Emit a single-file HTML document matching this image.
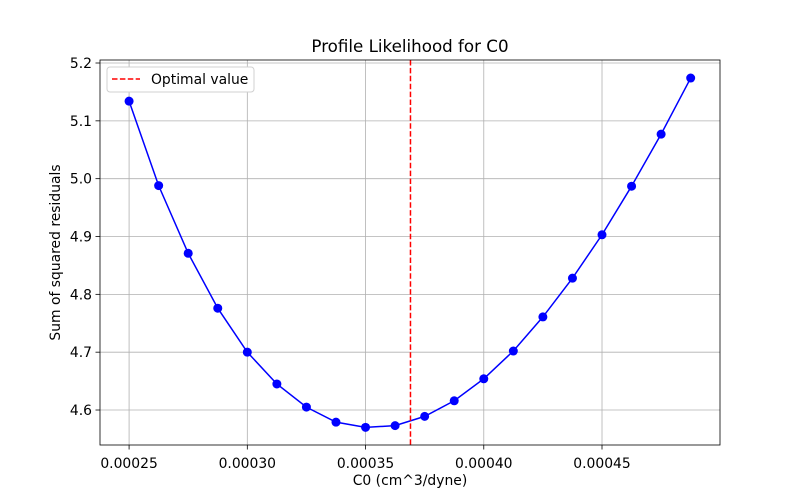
<!DOCTYPE html>
<html><head><meta charset="utf-8"><style>
body{margin:0;background:#fff;font-family:"DejaVu Sans","Liberation Sans",sans-serif}
</style></head><body>
<svg id="c" width="800" height="500" xmlns="http://www.w3.org/2000/svg" font-family="DejaVu Sans, Liberation Sans, sans-serif"></svg>
<script>
const xValues=[0.00025,0.0002625,0.000275,0.0002875,0.0003,0.0003125,0.000325,0.0003375,0.00035,0.0003625,0.000375,0.0003875,0.0004,0.0004125,0.000425,0.0004375,0.00045,0.0004625,0.000475,0.0004875];
const yValues=[5.134,4.988,4.871,4.776,4.700,4.645,4.605,4.579,4.570,4.573,4.589,4.616,4.654,4.702,4.761,4.828,4.903,4.987,5.077,5.174];
const xTicks=[0.00025,0.0003,0.00035,0.0004,0.00045];
const xTickLabels=["0.00025","0.00030","0.00035","0.00040","0.00045"];
const yTicks=[4.6,4.7,4.8,4.9,5.0,5.1,5.2];
const yTickLabels=["4.6","4.7","4.8","4.9","5.0","5.1","5.2"];
const optimalValue=[0.000369];
const L=100,R=720,T=60,B=445;
const xMin=0.0002377,xMax=0.0004999,yMin=4.5395,yMax=5.2052;
const sx=v=>L+(v-xMin)/(xMax-xMin)*(R-L);
const sy=v=>B-(v-yMin)/(yMax-yMin)*(B-T);
const svg=document.getElementById('c');
const NS='http://www.w3.org/2000/svg';
function mk(tag,attrs,txt){const e=document.createElementNS(NS,tag);for(const k in attrs)e.setAttribute(k,attrs[k]);if(txt!=null)e.textContent=txt;svg.appendChild(e);return e;}
xTicks.forEach((t,i)=>{
 const g=mk('line',{x1:sx(t),x2:sx(t),y1:T,y2:B,stroke:'#b0b0b0','stroke-width':0.8});
 
 
 const tk=mk('line',{x1:sx(t),x2:sx(t),y1:B,y2:B+4.5,stroke:'#000','stroke-width':0.8});
 
 
 const lb=mk('text',{x:sx(t),y:B+23,'font-size':13.9,'text-anchor':'middle'},xTickLabels[i]);
 
 
});
yTicks.forEach((t,i)=>{
 const g=mk('line',{x1:L,x2:R,y1:sy(t),y2:sy(t),stroke:'#b0b0b0','stroke-width':0.8});
 
 
 const tk=mk('line',{x1:L-4.5,x2:L,y1:sy(t),y2:sy(t),stroke:'#000','stroke-width':0.8});
 
 
 const lb=mk('text',{x:L-8,y:sy(t)+5,'font-size':13.9,'text-anchor':'end'},yTickLabels[i]);
 
 
});
const pts=xValues.map((x,i)=>sx(x)+','+sy(yValues[i])).join(' ');
const pl=mk('polyline',{points:pts,fill:'none',stroke:'#0000ff','stroke-width':1.5});


xValues.forEach((x,i)=>{
 const c=mk('circle',{cx:sx(x),cy:sy(yValues[i]),r:4.5,fill:'#0000ff'});
 
 
});
const ol=mk('line',{x1:sx(optimalValue[0]),x2:sx(optimalValue[0]),y1:T,y2:B,stroke:'#ff0000','stroke-width':1.5,'stroke-dasharray':'5.5,2.4'});


const fr=mk('rect',{x:L,y:T,width:R-L,height:B-T,fill:'none',stroke:'#000','stroke-width':0.8});


const tt=mk('text',{x:(L+R)/2,y:T-8,'font-size':16.7,'text-anchor':'middle'},'Profile Likelihood for C0');


const xt=mk('text',{x:(L+R)/2,y:485,'font-size':13.9,'text-anchor':'middle'},'C0 (cm^3/dyne)');


const yt=mk('text',{x:0,y:0,'font-size':13.9,'text-anchor':'middle',transform:'translate(60,'+((T+B)/2)+') rotate(-90)'},'Sum of squared residuals');


const lg=mk('rect',{x:107,y:67,width:147,height:25,fill:'#fff',stroke:'#d0d0d0','stroke-width':1,rx:3});


const ll=mk('line',{x1:112,x2:140,y1:79,y2:79,stroke:'#ff0000','stroke-width':1.5,'stroke-dasharray':'5.5,2.4'});


const lt=mk('text',{x:151,y:84,'font-size':13.9},'Optimal value');


</script>
</body></html>
